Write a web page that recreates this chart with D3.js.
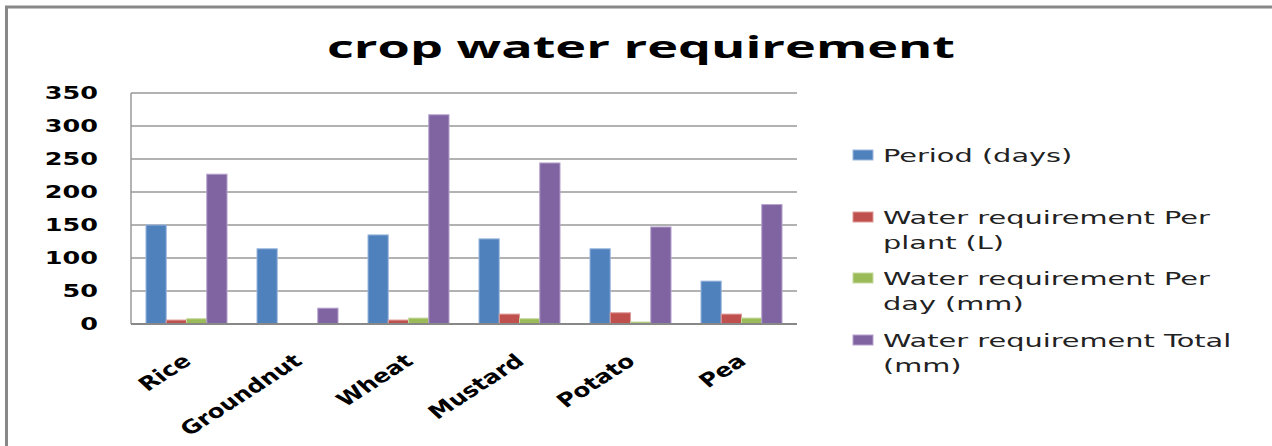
<!DOCTYPE html>
<html>
<head>
<meta charset="utf-8">
<script src="https://cdn.jsdelivr.net/npm/d3@7"></script>
<style>
  body { margin: 0; background: #fff; }
  svg { display: block; }
</style>
</head>
<body>
<script>
// chart data
var crops = ["Rice", "Groundnut", "Wheat", "Mustard", "Potato", "Pea"];
var seriesNames = ["Period (days)", "Water requirement Per plant (L)", "Water requirement Per day (mm)", "Water requirement Total (mm)"];
var period = [150, 114, 135, 129, 114, 65];
var perPlant = [6, 0, 6, 15, 17, 15];
var perDay = [8, 0, 9, 8, 3, 9];
var total = [227, 24, 317, 244, 147, 181];
var yTicks = [0, 50, 100, 150, 200, 250, 300, 350];
var legendLines = [["Period (days)"], ["Water requirement Per", "plant (L)"], ["Water requirement Per", "day (mm)"], ["Water requirement Total", "(mm)"]];

var colors = ["#4F81BD", "#C0504D", "#9BBB59", "#8064A2"];
var strokes = ["#9DB8DE", "#DE9A98", "#C6DA9F", "#B6A3CE"];

var width = 1272, height = 446;
var margin = {top: 93, left: 131, right: 797, bottom: 324};

var svg = d3.select("body").append("svg")
    .attr("width", width)
    .attr("height", height);

// frame (left + top only)
svg.append("path")
    .attr("d", "M6.5,446 V7 H1272")
    .attr("fill", "none")
    .attr("stroke", "#888")
    .attr("stroke-width", 3);

svg.append("text")
    .attr("x", 641).attr("y", 58)
    .attr("text-anchor", "middle")
    .attr("textLength", 628)
    .attr("lengthAdjust", "spacingAndGlyphs")
    .style("font-family", "'Open Sans', sans-serif")
    .style("font-weight", "bold")
    .style("font-size", "31px")
    .text("crop water requirement");

var x = d3.scaleBand()
    .domain(crops)
    .range([margin.left, margin.right])
    .paddingInner(0.27)
    .paddingOuter(0.135);

var x1 = d3.scaleBand()
    .domain(d3.range(4))
    .range([0, x.bandwidth()]);

var y = d3.scaleLinear()
    .domain([0, 350])
    .range([margin.bottom, margin.top]);

// grid
svg.append("g")
  .selectAll("line")
  .data(yTicks.slice(1))
  .enter().append("line")
    .attr("x1", margin.left).attr("x2", margin.right)
    .attr("y1", function(d) { return y(d); })
    .attr("y2", function(d) { return y(d); })
    .attr("stroke", "#999")
    .attr("stroke-width", 1.5);

// y tick labels (stretched like the original)
svg.append("g")
  .selectAll("text")
  .data(yTicks)
  .enter().append("text")
    .attr("transform", function(d) { return "translate(98," + (y(d) + 6) + ") scale(1.5,1)"; })
    .attr("text-anchor", "end")
    .style("font-family", "'DejaVu Sans', sans-serif")
    .style("font-weight", "bold")
    .style("font-size", "17px")
    .text(function(d) { return d; });

var allSeries = [period, perPlant, perDay, total];
var groups = svg.append("g")
  .selectAll("g")
  .data(allSeries)
  .enter().append("g")
    .attr("fill", function(d, i) { return colors[i]; })
    .attr("stroke", function(d, i) { return strokes[i]; });

groups.each(function(vals, si) {
  d3.select(this).selectAll("rect")
    .data(vals.map(function(v, ci) { return {crop: crops[ci], v: v}; }).filter(function(d) { return d.v > 0; }))
    .enter().append("rect")
      .attr("x", function(d) { return x(d.crop) + x1(si); })
      .attr("y", function(d) { return y(d.v); })
      .attr("width", x1.bandwidth())
      .attr("height", function(d) { return y(0) - y(d.v); })
      .attr("stroke-width", 1);
});

// axes lines
svg.append("line")
    .attr("x1", margin.left).attr("x2", margin.left)
    .attr("y1", margin.top).attr("y2", margin.bottom)
    .attr("stroke", "#999").attr("stroke-width", 1.5);
svg.append("line")
    .attr("x1", margin.left).attr("x2", margin.right)
    .attr("y1", margin.bottom).attr("y2", margin.bottom)
    .attr("stroke", "#888").attr("stroke-width", 2);

// category labels, rotated and stretched
svg.append("g")
  .selectAll("text")
  .data(crops)
  .enter().append("text")
    .attr("transform", function(d) {
      return "translate(" + (x(d) + x.bandwidth() / 2 + 6) + ",363) scale(1.3,1) rotate(-40)";
    })
    .attr("text-anchor", "end")
    .style("font-family", "'DejaVu Sans', sans-serif")
    .style("font-weight", "bold")
    .style("font-size", "19px")
    .text(function(d) { return d; });

// legend
var legendTop = [150, 212, 273, 335];
var legend = svg.append("g")
  .selectAll("g")
  .data(seriesNames)
  .enter().append("g")
    .attr("transform", function(d, i) { return "translate(853," + legendTop[i] + ")"; });

legend.append("rect")
    .attr("width", 20).attr("height", 10)
    .attr("fill", function(d, i) { return colors[i]; })
    .attr("stroke", function(d, i) { return strokes[i]; });

legend.each(function(d, i) {
  d3.select(this).selectAll("text")
    .data(legendLines[i])
    .enter().append("text")
      .attr("transform", function(t, j) { return "translate(30," + (12 + j * 25) + ") scale(1.6,1)"; })
      .style("font-family", "'DejaVu Sans', sans-serif")
      .style("font-size", "18px")
      .style("fill", "#222")
      .text(function(t) { return t; });
});
</script>
</body>
</html>
